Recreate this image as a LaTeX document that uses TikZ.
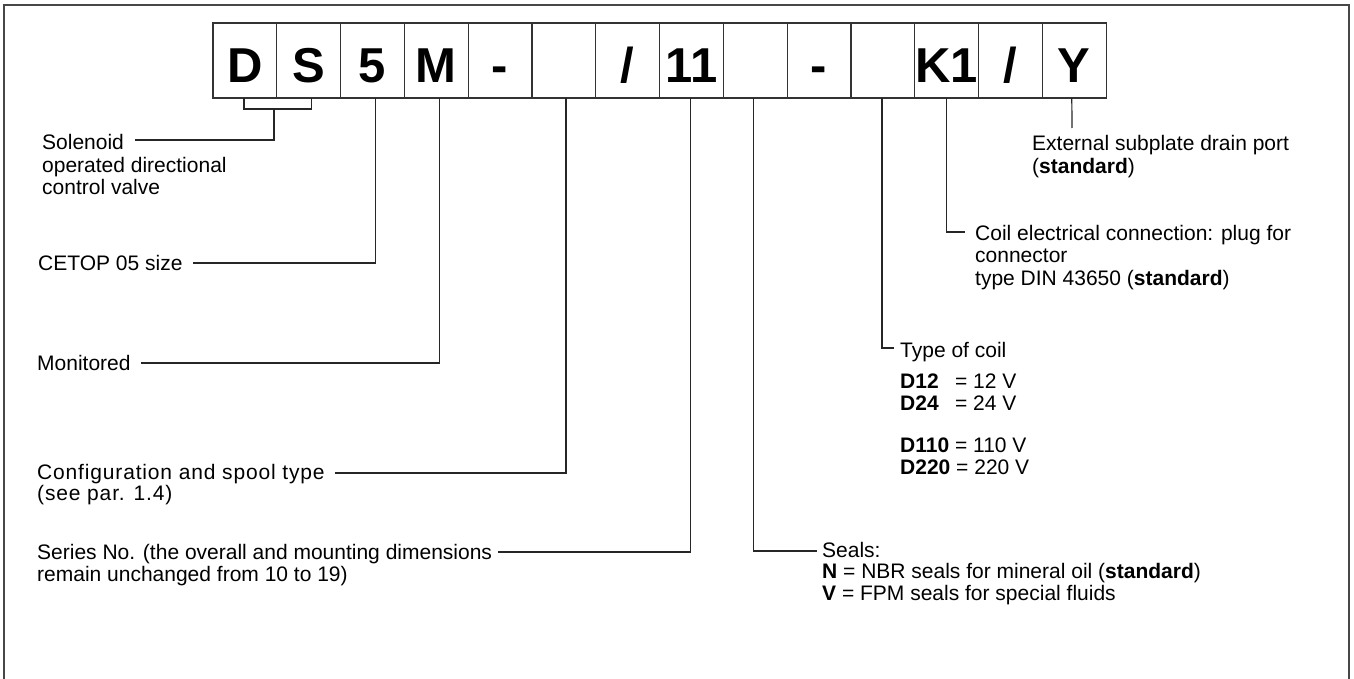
\documentclass[tikz,border=0pt]{standalone}
\usepackage{fontspec}
\setmainfont{Liberation Sans}
\begin{document}
\begin{tikzpicture}[x=1pt,y=-1pt,
  cell/.style={draw=black!80, line width=1.2pt, minimum width=63.8pt,
    minimum height=75pt, inner sep=0pt, outer sep=0pt},
  code/.style={font=\fontsize{49}{49}\selectfont\bfseries, anchor=base, inner sep=0pt},
  lbl/.style={font=\fontsize{21}{21.5}\selectfont, align=left, inner sep=0pt},
  lblwide/.style={font=\fontsize{21}{22.5}\selectfont, align=left, inner sep=0pt},
  lead/.style={line width=1.2pt, draw=black!85},
  frame/.style={line width=2pt, draw=black!72}]
\useasboundingbox (0,0) rectangle (1354,679);

% outer frame (open at the bottom)
\draw[frame] (4,700) -- (4,5) -- (1349,5) -- (1349,700);

% ordering code cells
\foreach \i in {1,...,14}
  \node[cell] (b\i) at ({213+63.8*(\i-0.5)},60.5) {};
\foreach \i/\t in {1/D,2/S,3/5,4/M,5/-,7/{/},8/11,10/-,12/K1,13/{/},14/Y}
  \node[code] (t\i) at ([yshift=-22.5pt]b\i.center) {\t};

% descriptions, left column (base anchor = baseline of the last line)
\node[lblwide, anchor=base west] (sol) at (42,195)
  {Solenoid\\operated directional\\control valve};
\node[lbl, anchor=west] (cetop) at (38,263) {CETOP 05 size};
\node[lbl, anchor=west] (mon) at (37,363) {Monitored};
\node[lbl, anchor=base west] (conf) at (37,500.5)
  {\addfontfeature{LetterSpace=4}Configuration and spool type\\
   \addfontfeature{LetterSpace=4}(see par. 1.4)};
\node[lbl, anchor=base west] (ser) at (37,581)
  {Series No. (the overall and mounting dimensions\\remain unchanged from 10 to 19)};

% descriptions, right side
\node[lblwide, anchor=base west] (ext) at (1032,173.5)
  {External subplate drain port\\(\textbf{standard})};
\node[lblwide, anchor=base west] (conn) at (975,285)
  {Coil electrical connection: plug for\\connector\\type DIN 43650 (\textbf{standard})};
\node[lbl, anchor=base west] (coil) at (900,474)
  {Type of coil\\[10pt]
   \rlap{\textbf{D12}}\hphantom{\textbf{D110}} = 12 V\\
   \rlap{\textbf{D24}}\hphantom{\textbf{D110}} = 24 V\\[21pt]
   \textbf{D110} = 110 V\\
   \textbf{D220} = 220 V};
\node[lbl, anchor=base west] (seals) at (822,600)
  {Seals:\\\textbf{N} = NBR seals for mineral oil (\textbf{standard})\\
   \textbf{V} = FPM seals for special fluids};

% free ends of the leader lines
\coordinate (ds) at (274,109);
\coordinate (solE) at (135,140);
\coordinate (confE) at (335,473);
\coordinate (serE) at (498,552);
\coordinate (sealsW) at (817,551);
\coordinate (coilW) at (894,348);
\coordinate (connW) at (965,232);
\coordinate (extN) at (1072,128);

% leader lines
\draw[lead] ([xshift=-1pt]b1.south) -- ++(0,11) -| ([xshift=3pt]b2.south);
\draw[lead] (ds) |- (solE);
\draw[lead] ([xshift=3pt]b3.south) |- ([xshift=10pt]cetop.east);
\draw[lead] ([xshift=3.5pt]b4.south) |- ([xshift=10pt]mon.east);
\draw[lead] ([xshift=2pt]b6.south) |- (confE);
\draw[lead] ([xshift=-0.7pt]b8.south) |- (serE);
\draw[lead] ([xshift=-1.5pt]b9.south) |- (sealsW);
\draw[lead] ([xshift=-1pt]b11.south) |- (coilW);
\draw[lead] (b12.south) |- (connW);
\draw[lead] ([xshift=-2.5pt]b14.south) -- (extN);
\end{tikzpicture}
\end{document}
